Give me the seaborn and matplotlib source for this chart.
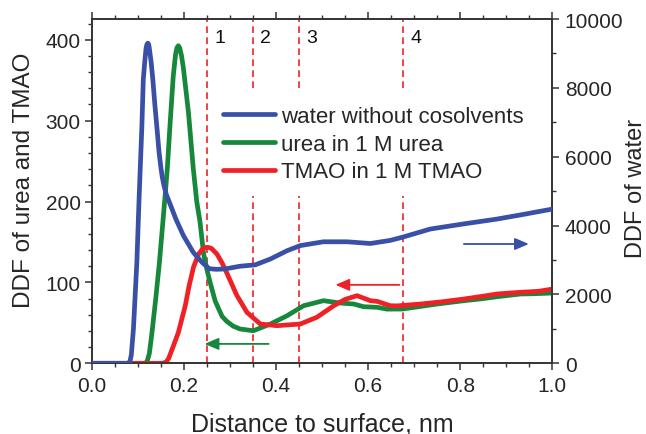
import matplotlib
matplotlib.use("Agg")
import matplotlib.pyplot as plt
import seaborn as sns
import pandas as pd
from matplotlib.ticker import MultipleLocator, FormatStrFormatter

# Density distribution functions vs distance to the surface (nm)
water_x = [0.0, 0.05, 0.078, 0.083, 0.086, 0.0905, 0.098, 0.103, 0.1087, 0.112, 0.115,
           0.118, 0.12, 0.1217, 0.1235, 0.125, 0.129, 0.1326, 0.137, 0.1425, 0.146,
           0.150, 0.153, 0.157, 0.162, 0.1685, 0.183, 0.199, 0.2206, 0.239, 0.255,
           0.27, 0.289, 0.322, 0.355, 0.388, 0.424, 0.453, 0.503, 0.554, 0.605,
           0.648, 0.674, 0.735, 0.808, 0.88, 0.931, 1.0]
water_ddf = [0, 0, 0, 50, 250, 990, 2940, 4860, 6820, 8250, 8740,
             9160, 9270, 9300, 9270, 9160, 8740, 8250, 7520, 6700, 6150,
             5700, 5420, 5150, 4900, 4680, 4180, 3710, 3220, 2940, 2750,
             2730, 2740, 2820, 2860, 3030, 3270, 3420, 3530, 3530, 3480,
             3570, 3660, 3900, 4050, 4190, 4310, 4480]

urea_x = [0.0, 0.1, 0.115, 0.12, 0.125, 0.13, 0.139, 0.147, 0.153, 0.159, 0.164,
          0.17, 0.177, 0.182, 0.185, 0.188, 0.191, 0.195, 0.199, 0.21, 0.2206,
          0.228, 0.235, 0.243, 0.25, 0.257, 0.268, 0.283, 0.293, 0.307, 0.322,
          0.351, 0.388, 0.424, 0.46, 0.503, 0.54, 0.569, 0.59, 0.62, 0.641,
          0.674, 0.71, 0.75, 0.808, 0.85, 0.88, 0.931, 0.96, 1.0]
urea_ddf = [0, 0, 0, 2, 12, 34, 80, 125, 165, 205, 240,
            295, 355, 382, 390, 392.6, 390, 380, 365, 310, 240,
            200, 175, 135, 116, 100, 77, 58, 52, 46, 42.4,
            40.3, 48.6, 58.8, 71.2, 77.4, 74.5, 73.3, 70, 69.2, 67,
            67.1, 70, 73.3, 77.4, 80, 82.3, 85.7, 86, 86.9]

tmao_x = [0.0, 0.14, 0.155, 0.162, 0.167, 0.177, 0.188, 0.203, 0.2115, 0.221, 0.232,
          0.24, 0.245, 0.25, 0.255, 0.26, 0.272, 0.283, 0.293, 0.315, 0.337,
          0.366, 0.402, 0.453, 0.489, 0.525, 0.55, 0.576, 0.605, 0.62, 0.648,
          0.663, 0.714, 0.76, 0.808, 0.85, 0.88, 0.931, 0.97, 1.0]
tmao_ddf = [0, 0, 0, 2, 6, 21, 38, 71, 96, 119, 135,
            141, 142.8, 143.4, 143, 142, 135, 124, 112, 84, 63,
            48.6, 46.5, 48.6, 57, 71, 79, 83.6, 77.4, 76.5, 71.2,
            71, 73.3, 76, 79.5, 83, 85.7, 87.8, 89, 91.8]

layer_bounds = [0.25, 0.35, 0.45, 0.675]
layer_labels = ["1", "2", "3", "4"]

BLUE = "#3a50a6"
GREEN = "#16883c"
RED = "#ee2226"
LW = 3.4

sns.set_theme(style="white")
plt.rcParams["font.family"] = ["Liberation Sans", "DejaVu Sans"]
plt.rcParams["axes.edgecolor"] = "#333333"

fig = plt.figure(figsize=(6.46, 4.35), dpi=100)
ax = fig.add_axes([0.142, 0.1625, 0.713, 0.7915])
ax2 = ax.twinx()

for xb in layer_bounds:
    ax.axvline(xb, color=RED, lw=1.2, ls=(0, (4, 2.6)), zorder=1)
for xb, lab in zip(layer_bounds, layer_labels):
    ax.text(xb + 0.028, 403, lab, ha="center", va="center", fontsize=14, color="#111111")

df_urea = pd.DataFrame({"x": urea_x, "y": urea_ddf})
df_tmao = pd.DataFrame({"x": tmao_x, "y": tmao_ddf})
df_water = pd.DataFrame({"x": water_x, "y": water_ddf})

sns.lineplot(data=df_urea, x="x", y="y", ax=ax, color=GREEN, lw=LW, zorder=3,
             legend=False, solid_joinstyle="round", solid_capstyle="round")
sns.lineplot(data=df_tmao, x="x", y="y", ax=ax, color=RED, lw=LW, zorder=3,
             legend=False, solid_joinstyle="round", solid_capstyle="round")
sns.lineplot(data=df_water, x="x", y="y", ax=ax2, color=BLUE, lw=LW, zorder=3,
             legend=False, solid_joinstyle="round", solid_capstyle="round")

# direction arrows pointing to the relevant axis
arrow_kw = dict(arrowstyle="-|>,head_length=0.7,head_width=0.3", lw=1.3,
                shrinkA=0, shrinkB=0)
ax.annotate("", xy=(0.245, 24), xytext=(0.384, 24),
            arrowprops=dict(color=GREEN, **arrow_kw))
ax.annotate("", xy=(0.529, 97), xytext=(0.668, 97),
            arrowprops=dict(color=RED, **arrow_kw))
ax.annotate("", xy=(0.949, 147.5), xytext=(0.808, 147.5),
            arrowprops=dict(color=BLUE, **arrow_kw))

ax.set_xlim(0, 1.0)
ax.set_ylim(0, 425.6)
ax2.set_ylim(0, 10000)

ax.xaxis.set_major_locator(MultipleLocator(0.2))
ax.xaxis.set_minor_locator(MultipleLocator(0.05))
ax.yaxis.set_major_locator(MultipleLocator(100))
ax.yaxis.set_minor_locator(MultipleLocator(20))
ax2.yaxis.set_major_locator(MultipleLocator(2000))
ax2.yaxis.set_minor_locator(MultipleLocator(1000))
ax.xaxis.set_major_formatter(FormatStrFormatter("%.1f"))

ax.tick_params(axis="x", which="both", direction="out", top=True, bottom=True,
               labelsize=15, pad=4, color="#333333")
ax.tick_params(axis="y", which="both", direction="out", left=True, right=False,
               labelsize=15, pad=3, color="#333333")
ax2.tick_params(axis="y", which="both", direction="out", right=True,
                labelsize=15, pad=4, color="#333333")
for a in (ax, ax2):
    a.tick_params(which="major", length=5, width=1.1)
    a.tick_params(which="minor", length=3, width=1.0)
    for s in a.spines.values():
        s.set_linewidth(1.2)
        s.set_color("#333333")

ax.set_xlabel("Distance to surface, nm", fontsize=18, labelpad=12)
ax.set_ylabel("DDF of urea and TMAO", fontsize=17.5)
ax2.set_ylabel("DDF of water", fontsize=17)
ax.yaxis.set_label_coords(-0.123, 0.535)
ax2.yaxis.set_label_coords(1.158, 0.512)

handles = ax2.get_lines()[:1] + ax.get_lines()[4:6]
labels = ["water without cosolvents", "urea in 1 M urea", "TMAO in 1 M TMAO"]
leg = ax2.legend(handles, labels, loc="upper left", bbox_to_anchor=(0.256, 0.787),
                 fontsize=16, frameon=True, facecolor="white", edgecolor="none",
                 framealpha=1.0, handlelength=2.35, handletextpad=0.27,
                 labelspacing=0.31, borderpad=0.6, borderaxespad=0)

fig.savefig("out.png", dpi=100)
